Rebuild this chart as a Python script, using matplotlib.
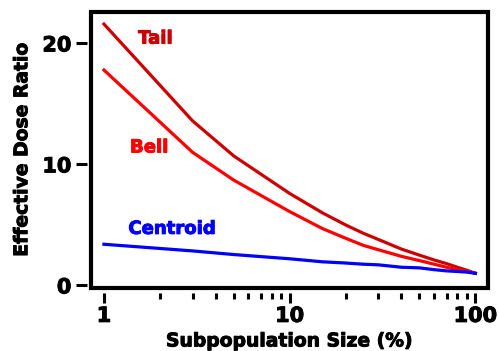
import matplotlib
matplotlib.use('Agg')
import matplotlib.pyplot as plt
import matplotlib.patheffects as pe
from matplotlib.patches import Rectangle
from matplotlib.ticker import NullFormatter, FixedLocator, FixedFormatter

plt.rcParams['font.family'] = ['DejaVu Sans']
plt.rcParams['font.weight'] = 'bold'

size = [1, 3, 5, 10, 15, 20, 25, 30, 40, 50, 60, 70, 80, 90, 100]
tail = [21.6, 13.6, 10.7, 7.6, 6.0, 5.0, 4.3, 3.8, 3.0, 2.5, 2.1, 1.8, 1.5, 1.25, 1.0]
bell = [17.8, 11.0, 8.7, 6.1, 4.7, 3.9, 3.3, 2.95, 2.4, 2.05, 1.75, 1.5, 1.3, 1.15, 1.0]
centroid = [3.4, 2.85, 2.55, 2.2, 1.95, 1.85, 1.75, 1.7, 1.5, 1.45, 1.3, 1.2, 1.15, 1.1, 1.0]

c_tail = '#cc0000'
c_bell = '#ff0000'
c_cent = '#0000ff'

def heavy(c):
    # thicken the bold font a bit, the original looks like Arial Black
    return [pe.Stroke(linewidth=0.7, foreground=c), pe.Normal()]

fig = plt.figure(figsize=(4.99, 3.51), dpi=100)
ax = fig.add_axes([0.182, 0.18, 0.796, 0.786])

ax.plot(size, tail, color=c_tail, lw=2.3, solid_joinstyle='round')
ax.plot(size, bell, color=c_bell, lw=2.3, solid_joinstyle='round')
ax.plot(size, centroid, color=c_cent, lw=2.3, solid_joinstyle='round')

ax.text(1.89, 20.4, 'Tail', color=c_tail, fontsize=13, fontweight='bold',
        ha='center', va='center', path_effects=heavy(c_tail))
ax.text(1.75, 11.4, 'Bell', color=c_bell, fontsize=13, fontweight='bold',
        ha='center', va='center', path_effects=heavy(c_bell))
ax.text(2.32, 4.67, 'Centroid', color=c_cent, fontsize=13, fontweight='bold',
        ha='center', va='center', path_effects=heavy(c_cent))

ax.set_xscale('log')
ax.set_xlim(0.85, 117)
ax.set_ylim(-0.2, 22.6)

# frame drawn separately so ticks sit a little off the box
for s in ax.spines.values():
    s.set_visible(False)
ax.spines['left'].set_position(('outward', 3))
ax.spines['bottom'].set_position(('outward', 4))
ax.add_patch(Rectangle((0, 0), 1, 1, transform=ax.transAxes, fill=False,
                       lw=3, edgecolor='black', clip_on=False, zorder=5))

ax.xaxis.set_major_locator(FixedLocator([1, 10, 100]))
ax.xaxis.set_major_formatter(FixedFormatter(['1', '10', '100']))
minors = [m * d for d in (1, 10) for m in range(2, 10)]
ax.xaxis.set_minor_locator(FixedLocator(minors))
ax.xaxis.set_minor_formatter(NullFormatter())
ax.set_yticks([0, 10, 20])

ax.tick_params(axis='both', which='major', direction='out', width=2.2, length=7,
               labelsize=15, pad=2)
ax.tick_params(axis='y', which='major', pad=3, length=8)
ax.tick_params(axis='x', which='minor', direction='out', width=2.2, length=4)
ax.tick_params(top=False, right=False)
for lab in ax.get_xticklabels() + ax.get_yticklabels():
    lab.set_path_effects(heavy('black'))

ax.set_xlabel('Subpopulation Size (%)', fontsize=13.5, fontweight='bold', labelpad=4,
              path_effects=heavy('black'))
ax.set_ylabel('Effective Dose Ratio', fontsize=13.5, fontweight='bold', labelpad=8,
              path_effects=heavy('black'))

fig.savefig('out.png', dpi=100)
